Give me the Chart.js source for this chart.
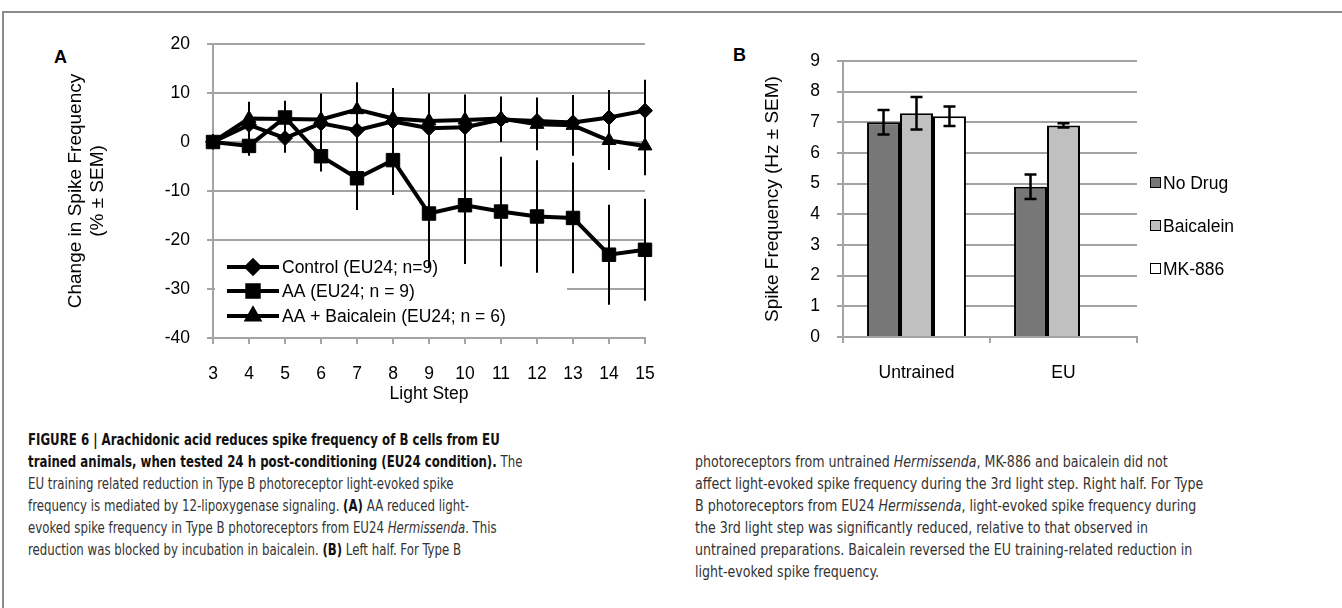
<!DOCTYPE html>
<html>
<head>
<meta charset="utf-8">
<script src="https://cdn.jsdelivr.net/npm/chart.js@4.4.1/dist/chart.umd.min.js"></script>
<style>
  body { margin: 0; background: #fff; width: 1342px; height: 608px; position: relative; overflow: hidden;
         font-family: "Liberation Sans", Arial, sans-serif; }
  #frameTop { position: absolute; left: 2px; top: 11px; width: 1340px; height: 2px; background: #8c8c8c; }
  #frameLeft { position: absolute; left: 2px; top: 11px; width: 2px; height: 597px; background: #8c8c8c; }
  .panel { position: absolute; font-weight: bold; font-size: 18px; color: #000; }
  #wrapA { position: absolute; left: 0; top: 0; }
  #wrapB { position: absolute; left: 690px; top: 0; }
  #legB { position: absolute; left: 1150px; top: 172px; font-size: 17.5px; color: #000; }
  #legB div { height: 43px; line-height: 22px; white-space: nowrap; }
  #legB span.box { display: inline-block; width: 9px; height: 9px; border: 1px solid #000; margin-right: 2px; vertical-align: 1px; }
  .cap { position: absolute; font-family: "DejaVu Sans Condensed", sans-serif;
         font-size: 15.5px; line-height: 22px; color: #333; white-space: pre; transform-origin: 0 0; }
  .cap b { color: #111; }
</style>
</head>
<body>
<div id="frameTop"></div>
<div id="frameLeft"></div>
<div class="panel" style="left:54px; top:47px;">A</div>
<div class="panel" style="left:733px; top:45px;">B</div>

<div id="wrapA"><canvas id="chA" width="680" height="410"></canvas></div>
<div id="wrapB"><canvas id="chB" width="652" height="410"></canvas></div>

<div id="legB">
  <div><span class="box" style="background:#777777"></span>No Drug</div>
  <div><span class="box" style="background:#c0c0c0"></span>Baicalein</div>
  <div><span class="box" style="background:#ffffff"></span>MK-886</div>
</div>

<div class="cap" style="left:28px; top:429px; transform: scaleX(0.845);"><b>FIGURE 6 | Arachidonic acid reduces spike frequency of B cells from EU</b>
<b>trained animals, when tested 24 h post-conditioning (EU24 condition).</b> The
EU training related reduction in Type B photoreceptor light-evoked spike
frequency is mediated by 12-lipoxygenase signaling. <b>(A)</b> AA reduced light-
evoked spike frequency in Type B photoreceptors from EU24 <i>Hermissenda</i>. This
reduction was blocked by incubation in baicalein. <b>(B)</b> Left half. For Type B</div>

<div class="cap" style="left:695px; top:451px; transform: scaleX(0.905);">photoreceptors from untrained <i>Hermissenda</i>, MK-886 and baicalein did not
affect light-evoked spike frequency during the 3rd light step. Right half. For Type
B photoreceptors from EU24 <i>Hermissenda</i>, light-evoked spike frequency during
the 3rd light step was significantly reduced, relative to that observed in
untrained preparations. Baicalein reversed the EU training-related reduction in
light-evoked spike frequency.</div>

<script>
// panel A - change in spike frequency per light step
const lightSteps = ['3', '4', '5', '6', '7', '8', '9', '10', '11', '12', '13', '14', '15'];
const controlMean = [0, 3.5, 0.8, 3.8, 2.4, 4.2, 2.8, 3.0, 4.6, 4.3, 4.0, 5.0, 6.4];
const controlSem = [0.6, 3.0, 3.0, 5.2, 5.0, 6.8, 6.5, 6.5, 4.6, 4.8, 5.5, 5.6, 6.3];
const aaMean = [0, -0.8, 5.0, -2.9, -7.4, -3.7, -14.6, -12.9, -14.2, -15.2, -15.5, -23.0, -22.0];
const aaSem = [0.6, 2.0, 3.4, 3.1, 6.5, 7.1, 11.0, 12.0, 11.2, 11.5, 11.3, 10.2, 10.4];
const baicMean = [0, 4.8, 4.7, 4.6, 6.6, 4.8, 4.3, 4.5, 4.8, 3.6, 3.4, 0.3, -0.8];
const baicSem = [0.5, 3.4, 2.0, 5.3, 5.6, 5.5, 5.6, 5.2, 4.5, 5.3, 6.2, 6.0, 6.0];

// panel B - spike frequency at 3rd light step
const groups = ['Untrained', 'EU'];
const noDrug = [7.0, 4.9];
const noDrugSem = [0.4, 0.4];
const baicalein = [7.3, 6.9];
const baicaleinSem = [0.53, 0.07];
const mk886 = [7.2, null];
const mk886Sem = [0.32, null];

const gridGray = '#a3a3a3';
const fontFam = '"Liberation Sans", Arial, sans-serif';
const tickFont = { family: fontFam, size: 17.5 };
const titleFont = { family: fontFam, size: 19, lineHeight: 1.2 };

// error bars drawn from the dataset's own "sem" list through the y scale
const errorBars = {
  id: 'errorBars',
  beforeDatasetsDraw(chart, args, opts) { if (opts.under) drawErr(chart, opts); },
  afterDatasetsDraw(chart, args, opts) { if (!opts.under) drawErr(chart, opts); }
};
function drawErr(chart, opts) {
  const ctx = chart.ctx, y = chart.scales.y;
  ctx.save();
  ctx.strokeStyle = '#000';
  ctx.lineWidth = opts.width || 2;
  chart.data.datasets.forEach((ds, i) => {
    const meta = chart.getDatasetMeta(i);
    ds.sem.forEach((e, j) => {
      const v = ds.data[j];
      if (v == null || e == null) return;
      const x = meta.data[j].x;
      const yt = y.getPixelForValue(v + e), yb = y.getPixelForValue(v - e);
      ctx.beginPath();
      ctx.moveTo(x, yt); ctx.lineTo(x, yb);
      if (opts.cap) {
        ctx.moveTo(x - opts.cap, yt); ctx.lineTo(x + opts.cap, yt);
        ctx.moveTo(x - opts.cap, yb); ctx.lineTo(x + opts.cap, yb);
      }
      ctx.stroke();
    });
  });
  ctx.restore();
}

// legend inside panel A plot area
const legendA = {
  id: 'legendA',
  beforeDatasetsDraw(chart) {
    const ctx = chart.ctx, a = chart.chartArea;
    ctx.save();
    ctx.fillStyle = '#fff';
    ctx.fillRect(a.left + 2, 250, 352, 82);
    ctx.restore();
  },
  afterDraw(chart) {
    const ctx = chart.ctx;
    const rows = [267, 291, 316];
    ctx.save();
    chart.data.datasets.forEach((ds, i) => {
      const yy = rows[i];
      ctx.strokeStyle = '#000';
      ctx.lineWidth = 4;
      ctx.beginPath(); ctx.moveTo(227, yy); ctx.lineTo(279, yy); ctx.stroke();
      ctx.fillStyle = '#000';
      Chart.helpers.drawPoint(ctx, { pointStyle: ds.pointStyle, radius: ds.pointRadius * 0.85, borderWidth: 1 }, 253, yy);
      ctx.fill();
      ctx.font = '17.5px ' + fontFam;
      ctx.textBaseline = 'middle';
      ctx.fillText(ds.label, 282, yy + 1);
    });
    ctx.restore();
  }
};

function lineSet(label, data, sem, style, r) {
  return {
    label: label, data: data, sem: sem,
    borderColor: '#000', borderWidth: 4, backgroundColor: '#000',
    pointStyle: style, pointRadius: r, pointBackgroundColor: '#000', pointBorderColor: '#000',
    pointBorderWidth: 1, tension: 0
  };
}

new Chart(document.getElementById('chA'), {
  type: 'line',
  data: {
    labels: lightSteps,
    datasets: [
      lineSet('Control (EU24; n=9)', controlMean, controlSem, 'rectRot', 7.5),
      lineSet('AA (EU24; n = 9)', aaMean, aaSem, 'rect', 9.5),
      lineSet('AA + Baicalein (EU24; n = 6)', baicMean, baicSem, 'triangle', 8)
    ]
  },
  plugins: [legendA, errorBars],
  options: {
    responsive: false,
    animation: false,
    devicePixelRatio: 1,
    layout: { padding: { left: 61, top: 44, right: 35, bottom: 0 } },
    plugins: {
      legend: { display: false },
      tooltip: { enabled: false },
      errorBars: { under: true, width: 2 }
    },
    scales: {
      x: {
        offset: false,
        grid: { drawOnChartArea: false, drawTicks: true, tickLength: 6, color: gridGray, lineWidth: 2 },
        border: { color: gridGray, width: 2 },
        ticks: { color: '#000', font: tickFont, padding: 20, maxRotation: 0 },
        title: { display: true, text: 'Light Step', color: '#000', font: tickFont, padding: { top: 0, bottom: 5 } },
        afterFit(s) { s.height = 72; }
      },
      y: {
        min: -40, max: 20,
        ticks: { stepSize: 10, color: '#000', font: tickFont, padding: 17 },
        grid: { color: gridGray, lineWidth: 2, tickLength: 6 },
        border: { color: gridGray, width: 2 },
        title: { display: true, text: ['Change in Spike Frequency', '(% ± SEM)'], color: '#000', font: titleFont,
                 padding: { top: 3, bottom: 0 } },
        afterFit(s) { s.width = 152; }
      }
    }
  }
});

function barSet(label, data, sem, fill) {
  return {
    label: label, data: data, sem: sem,
    backgroundColor: fill, borderColor: '#000', borderWidth: 2,
    barPercentage: 1, categoryPercentage: 0.673
  };
}

new Chart(document.getElementById('chB'), {
  type: 'bar',
  data: {
    labels: groups,
    datasets: [
      barSet('No Drug', noDrug, noDrugSem, '#777777'),
      barSet('Baicalein', baicalein, baicaleinSem, '#c0c0c0'),
      barSet('MK-886', mk886, mk886Sem, '#ffffff')
    ]
  },
  plugins: [errorBars],
  options: {
    responsive: false,
    animation: false,
    devicePixelRatio: 1,
    layout: { padding: { left: 68, top: 61, right: 205, bottom: 0 } },
    plugins: {
      legend: { display: false },
      tooltip: { enabled: false },
      errorBars: { under: false, width: 2.5, cap: 6 }
    },
    scales: {
      x: {
        grid: { drawOnChartArea: false, drawTicks: true, tickLength: 6, color: gridGray, lineWidth: 2, offset: true },
        border: { color: gridGray, width: 2 },
        ticks: { color: '#000', font: tickFont, padding: 20 },
        afterFit(s) { s.height = 73; }
      },
      y: {
        min: 0, max: 9,
        ticks: { stepSize: 1, color: '#000', font: tickFont, padding: 17 },
        grid: { color: gridGray, lineWidth: 2, tickLength: 6 },
        border: { color: gridGray, width: 2 },
        title: { display: true, text: 'Spike Frequency (Hz ± SEM)', color: '#000', font: titleFont,
                 padding: { top: 3, bottom: 0 } },
        afterFit(s) { s.width = 85; }
      }
    }
  }
});
</script>
</body>
</html>
